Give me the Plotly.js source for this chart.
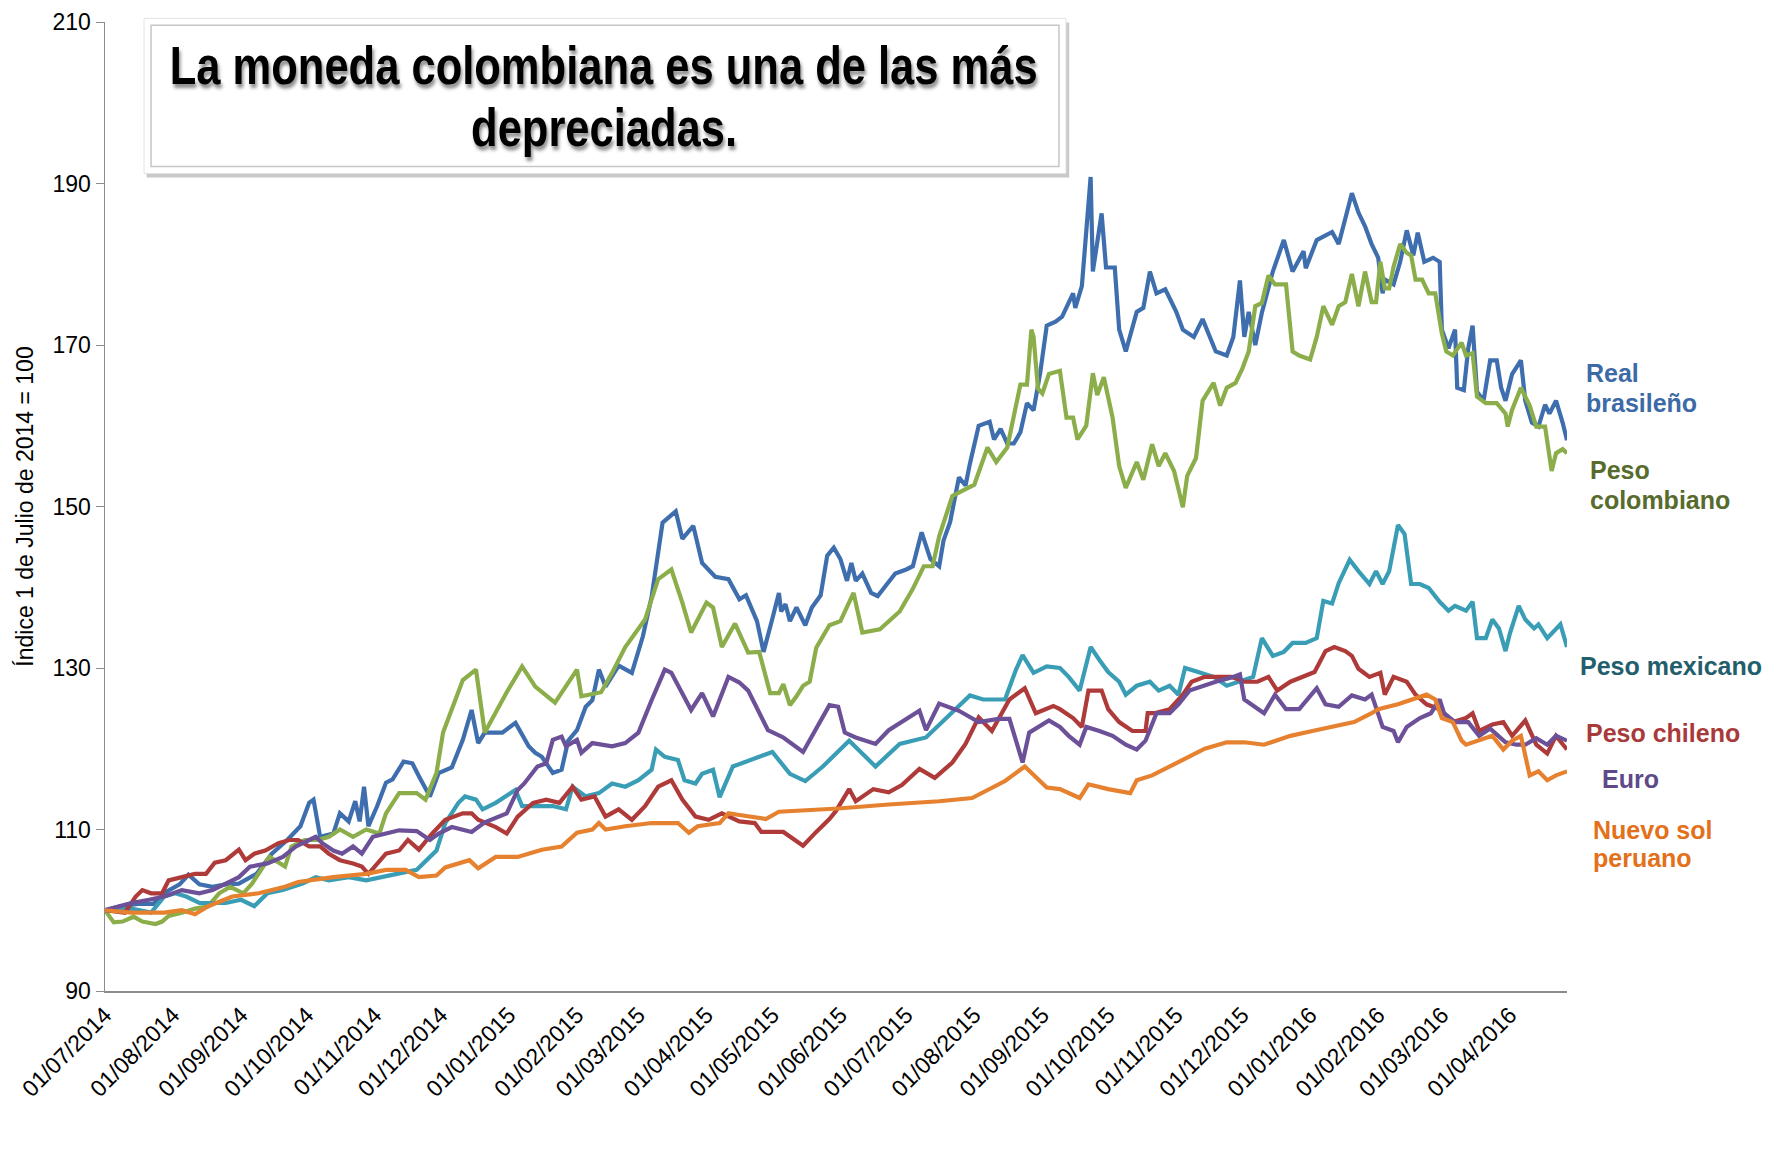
<!DOCTYPE html>
<html><head><meta charset="utf-8">
<script src="https://cdn.plot.ly/plotly-3.0.1.min.js"></script>
<style>html,body{margin:0;padding:0;background:#fff}#chart{width:1778px;height:1153px}</style>
</head><body><div id="chart"></div>
<script>
// ---- Data (index 1 Jul 2014 = 100) ----
const realBrasileno = [
["2014-07-01",100],["2014-07-08",100.5],["2014-07-17",100.8],["2014-07-23",100.8],["2014-07-29",102.3],["2014-08-04",103.2],["2014-08-08",104.4],["2014-08-13",103.2],["2014-08-19",102.9],["2014-08-25",103.2],["2014-08-31",103.3],["2014-09-08",104.5],["2014-09-15",107],["2014-09-22",108.7],["2014-09-28",110.4],["2014-10-02",113.3],["2014-10-04",113.7],["2014-10-07",109.1],["2014-10-13",109.5],["2014-10-16",112],["2014-10-20",111],["2014-10-23",113.5],["2014-10-25",111],["2014-10-27",115.3],["2014-10-29",110.4],["2014-11-02",112.9],["2014-11-06",115.8],["2014-11-09",116.2],["2014-11-14",118.4],["2014-11-18",118.2],["2014-11-21",116.6],["2014-11-26",114.1],["2014-11-30",117],["2014-12-06",117.7],["2014-12-11",121.1],["2014-12-15",124.8],["2014-12-18",120.7],["2014-12-21",122],["2014-12-29",122],
["2015-01-04",123.2],["2015-01-10",120.3],["2015-01-13",119.5],["2015-01-16",119],["2015-01-21",117],["2015-01-25",117.4],["2015-01-28",121],["2015-02-01",122.3],["2015-02-05",125.2],["2015-02-08",126],["2015-02-11",129.8],["2015-02-14",127.7],["2015-02-20",130.3],["2015-02-26",129.4],["2015-03-03",133.9],["2015-03-07",138.8],["2015-03-12",148],["2015-03-18",149.4],["2015-03-21",146],["2015-03-26",147.6],["2015-03-30",143],["2015-04-05",141.3],["2015-04-11",141],["2015-04-16",138.5],["2015-04-19",139],["2015-04-24",135.8],["2015-04-27",132],["2015-05-01",136.1],["2015-05-04",139.3],["2015-05-05",137],["2015-05-07",137.9],["2015-05-09",135.8],["2015-05-12",137.5],["2015-05-16",135.3],["2015-05-19",137.5],["2015-05-23",139],["2015-05-26",143.9],["2015-05-29",144.9],["2015-06-01",143.5],["2015-06-04",140.8],["2015-06-06",143],["2015-06-08",140.8],["2015-06-11",141.7],["2015-06-15",139.3],["2015-06-18",138.9],["2015-06-22",140.3],["2015-06-26",141.7],
["2015-07-01",142.2],["2015-07-04",142.6],["2015-07-08",146.8],["2015-07-12",143.5],["2015-07-16",142.6],["2015-07-18",145.8],["2015-07-21",148.1],["2015-07-25",153.6],["2015-07-28",152.6],["2015-07-30",155.3],["2015-08-03",160],["2015-08-08",160.5],["2015-08-10",158.3],["2015-08-13",159.6],["2015-08-16",157.8],["2015-08-19",157.8],["2015-08-22",159.2],["2015-08-25",162.8],["2015-08-28",161.9],["2015-08-31",166.5],["2015-09-03",172.4],["2015-09-07",172.9],["2015-09-10",173.5],["2015-09-15",176.4],["2015-09-16",174.6],["2015-09-19",177.3],["2015-09-23",190.8],["2015-09-24",179.1],["2015-09-28",186.3],["2015-09-30",179.6],["2015-10-04",179.6],["2015-10-06",171.9],["2015-10-09",169.2],["2015-10-14",174.1],["2015-10-17",174.6],["2015-10-20",179.1],["2015-10-23",176.4],["2015-10-27",176.9],["2015-11-01",174.1],["2015-11-04",171.9],["2015-11-09",171],["2015-11-13",173.2],["2015-11-19",169.2],["2015-11-24",168.7],["2015-11-27",171],["2015-11-30",178],["2015-12-02",171],["2015-12-04",174.1],["2015-12-07",170],["2015-12-10",174],["2015-12-15",179.1],["2015-12-20",183],["2015-12-24",179.1],["2015-12-29",181.6],["2015-12-30",179.5],
["2016-01-04",183],["2016-01-11",184],["2016-01-14",182.5],["2016-01-20",188.8],["2016-01-23",186.4],["2016-01-26",184.7],["2016-01-29",182.5],["2016-02-01",180.8],["2016-02-03",176.4],["2016-02-04",178.1],["2016-02-08",177.5],["2016-02-11",180.3],["2016-02-14",184.2],["2016-02-17",181.1],["2016-02-19",183.9],["2016-02-22",180.3],["2016-02-26",180.8],["2016-02-29",180.3],["2016-03-01",171.9],["2016-03-04",169.6],["2016-03-07",171.9],["2016-03-08",164.7],["2016-03-11",164.4],["2016-03-13",169.6],["2016-03-15",172.4],["2016-03-17",164.2],["2016-03-20",163.1],["2016-03-23",168.1],["2016-03-26",168.1],["2016-03-28",164.7],["2016-03-30",163.1],["2016-04-02",166.4],["2016-04-06",168.1],["2016-04-08",163.1],["2016-04-11",160.4],["2016-04-14",159.9],["2016-04-17",162.6],["2016-04-19",161.5],["2016-04-22",163.1],["2016-04-25",160.4],["2016-04-27",158.2]
];
const pesoColombiano = [
["2014-07-01",100],["2014-07-05",98.5],["2014-07-09",98.6],["2014-07-14",99.2],["2014-07-18",98.6],["2014-07-24",98.3],["2014-07-27",98.6],["2014-07-30",99.3],["2014-08-05",99.7],["2014-08-11",100.2],["2014-08-17",100.5],["2014-08-22",102.1],["2014-08-27",102.9],["2014-09-02",102.1],["2014-09-06",103.3],["2014-09-11",105.4],["2014-09-14",106.6],["2014-09-21",105.4],["2014-09-24",107.9],["2014-09-30",108.7],["2014-10-06",108.7],["2014-10-11",109.1],["2014-10-16",110],["2014-10-22",109.1],["2014-10-28",110],["2014-11-03",109.5],["2014-11-06",112],["2014-11-12",114.5],["2014-11-20",114.5],["2014-11-24",113.7],["2014-11-29",117],["2014-12-02",122],["2014-12-11",128.5],["2014-12-17",129.8],["2014-12-21",122],["2014-12-31",127],
["2015-01-07",130.2],["2015-01-13",127.7],["2015-01-22",125.7],["2015-02-01",129.8],["2015-02-03",126.5],["2015-02-12",127],["2015-02-17",129.4],["2015-02-23",132.6],["2015-03-04",136],["2015-03-10",141],["2015-03-16",142.2],["2015-03-21",138.1],["2015-03-25",134.4],["2015-04-01",138.1],["2015-04-04",137.5],["2015-04-08",132.6],["2015-04-14",135.5],["2015-04-20",131.9],["2015-04-25",132],["2015-04-30",126.9],["2015-05-04",126.9],["2015-05-06",128],["2015-05-09",125.4],["2015-05-12",126.5],["2015-05-15",127.8],["2015-05-18",128.3],["2015-05-21",132.5],["2015-05-27",135.3],["2015-06-01",135.8],["2015-06-07",139.3],["2015-06-11",134.4],["2015-06-19",134.8],["2015-06-28",137],
["2015-07-04",139.8],["2015-07-09",142.6],["2015-07-13",142.6],["2015-07-16",146.3],["2015-07-22",151.3],["2015-08-01",152.7],["2015-08-07",157.3],["2015-08-11",155.5],["2015-08-16",157.3],["2015-08-22",165.1],["2015-08-25",165.1],["2015-08-27",171.9],["2015-08-28",171],["2015-08-30",164.6],["2015-09-01",164],["2015-09-04",166.4],["2015-09-09",166.8],["2015-09-12",161],["2015-09-15",161],["2015-09-17",158.3],["2015-09-21",160],["2015-09-24",166.5],["2015-09-26",163.8],["2015-09-29",166],["2015-10-03",161],["2015-10-06",155],["2015-10-09",152.3],["2015-10-14",155.5],["2015-10-17",153.3],["2015-10-21",157.7],["2015-10-24",155],["2015-10-27",156.6],["2015-10-31",154.4],["2015-11-04",149.9],["2015-11-06",153.8],["2015-11-10",156],["2015-11-13",163.1],["2015-11-18",165.3],["2015-11-21",162.5],["2015-11-24",164.7],["2015-11-28",165.3],["2015-12-01",167],["2015-12-04",169.2],["2015-12-07",174.8],["2015-12-10",175.2],["2015-12-13",178.6],["2015-12-16",177.5],["2015-12-21",177.5],["2015-12-24",169.2],["2015-12-27",168.7],
["2016-01-01",168.2],["2016-01-04",171],["2016-01-07",174.8],["2016-01-11",172.5],["2016-01-14",174.8],["2016-01-17",175.3],["2016-01-20",178.8],["2016-01-23",174.8],["2016-01-26",179.1],["2016-01-29",175.3],["2016-01-31",175.3],["2016-02-02",180.3],["2016-02-04",177],["2016-02-06",177],["2016-02-08",179.7],["2016-02-11",182.5],["2016-02-14",181.4],["2016-02-16",181.1],["2016-02-18",178.1],["2016-02-21",178.1],["2016-02-24",176.4],["2016-02-27",176.4],["2016-03-01",171.4],["2016-03-03",169.2],["2016-03-06",168.7],["2016-03-10",170.3],["2016-03-12",168.7],["2016-03-15",169],["2016-03-17",163.6],["2016-03-21",162.8],["2016-03-26",162.8],["2016-03-30",161.5],["2016-03-31",159.9],["2016-04-02",162],["2016-04-06",164.7],["2016-04-10",162.5],["2016-04-13",159.9],["2016-04-17",159.9],["2016-04-20",154.4],["2016-04-22",156.6],["2016-04-25",157.1],["2016-04-27",156.6]
];
const pesoMexicano = [
["2014-07-01",100],["2014-07-13",100.2],["2014-07-22",99.7],["2014-07-28",101.7],["2014-08-02",102.1],["2014-08-07",101.7],["2014-08-13",100.9],["2014-08-25",100.9],["2014-09-01",101.3],["2014-09-07",100.5],["2014-09-13",102.1],["2014-09-20",102.5],["2014-09-29",103.3],["2014-10-05",104.1],["2014-10-11",103.7],["2014-10-20",104.1],["2014-10-28",103.7],["2014-11-03",104.1],["2014-11-11",104.5],["2014-11-20",105],["2014-11-26",106.5],["2014-11-29",107.4],["2014-12-03",110.8],["2014-12-09",113.3],["2014-12-12",114.1],["2014-12-17",113.7],["2014-12-20",112.5],["2014-12-26",113.3],
["2015-01-04",114.9],["2015-01-07",112.9],["2015-01-12",112.9],["2015-01-21",112.9],["2015-01-27",112.5],["2015-01-30",115.3],["2015-02-05",114.1],["2015-02-11",114.5],["2015-02-17",115.7],["2015-02-23",115.3],["2015-03-01",116.1],["2015-03-07",117.4],["2015-03-09",119.9],["2015-03-13",119],["2015-03-19",118.6],["2015-03-22",116.1],["2015-03-27",115.7],["2015-03-30",116.9],["2015-04-04",117.4],["2015-04-07",114],["2015-04-13",117.8],["2015-04-20",118.5],["2015-05-01",119.6],["2015-05-09",116.9],["2015-05-16",116],["2015-05-24",117.8],["2015-06-05",121],["2015-06-17",117.8],["2015-06-28",120.6],["2015-07-10",121.4],["2015-07-19",123.7],["2015-07-30",126.6],["2015-08-05",126.1],["2015-08-15",126.1],["2015-08-20",129.8],["2015-08-23",131.6],["2015-08-28",129.4],["2015-09-03",130.2],["2015-09-09",130],["2015-09-13",128.9],["2015-09-18",127.2],["2015-09-23",132.6],["2015-09-27",131],["2015-10-01",129.5],["2015-10-06",128.3],["2015-10-09",126.7],["2015-10-14",127.8],["2015-10-20",128.3],["2015-10-24",127.2],["2015-10-29",127.8],["2015-11-02",126.7],["2015-11-05",130],["2015-11-11",129.5],["2015-11-18",128.9],["2015-11-24",127.8],["2015-11-30",128.3],["2015-12-06",128.9],["2015-12-10",133.7],["2015-12-15",131.5],["2015-12-20",132],["2015-12-24",133.1],["2015-12-30",133.1],
["2016-01-04",133.7],["2016-01-07",138.3],["2016-01-11",138],["2016-01-14",140.5],["2016-01-19",143.4],["2016-01-23",142],["2016-01-28",140.4],["2016-01-31",142],["2016-02-03",140.4],["2016-02-06",142],["2016-02-10",147.7],["2016-02-13",146.6],["2016-02-16",140.4],["2016-02-20",140.4],["2016-02-24",139.9],["2016-02-29",138.2],["2016-03-04",137.1],["2016-03-07",137.7],["2016-03-12",137.1],["2016-03-15",138.2],["2016-03-17",133.7],["2016-03-21",133.7],["2016-03-24",136],["2016-03-27",134.9],["2016-03-30",132.1],["2016-04-01",134.3],["2016-04-05",137.7],["2016-04-08",136],["2016-04-12",134.9],["2016-04-14",135.4],["2016-04-18",133.7],["2016-04-24",135.4],["2016-04-27",132.6]
];
const pesoChileno = [
["2014-07-01",100],["2014-07-10",99.7],["2014-07-15",101.7],["2014-07-18",102.5],["2014-07-22",102.1],["2014-07-27",102.1],["2014-07-30",103.7],["2014-08-05",104.1],["2014-08-11",104.5],["2014-08-16",104.5],["2014-08-20",105.9],["2014-08-25",106.2],["2014-08-31",107.5],["2014-09-03",106.2],["2014-09-07",107],["2014-09-12",107.4],["2014-09-18",108.3],["2014-09-23",108.7],["2014-09-27",108.7],["2014-10-02",107.9],["2014-10-07",107.9],["2014-10-11",107],["2014-10-16",106.2],["2014-10-22",105.8],["2014-10-26",105.4],["2014-10-29",104.5],["2014-11-01",105.4],["2014-11-06",107],["2014-11-12",107.4],["2014-11-16",108.7],["2014-11-21",107.5],["2014-11-27",109.5],["2014-12-03",111.2],["2014-12-11",112],["2014-12-15",112],["2014-12-18",111.2],["2014-12-26",110.3],["2014-12-31",109.5],
["2015-01-05",111.6],["2015-01-12",113.3],["2015-01-18",113.7],["2015-01-24",113.3],["2015-01-30",115.3],["2015-02-03",113.7],["2015-02-09",114.1],["2015-02-14",111.6],["2015-02-20",112.5],["2015-02-26",111.2],["2015-03-04",112.9],["2015-03-10",115.3],["2015-03-16",116.1],["2015-03-21",113.7],["2015-03-27",111.6],["2015-04-02",111.2],["2015-04-08",112],["2015-04-16",111],["2015-04-23",110.8],["2015-04-26",109.7],["2015-05-06",109.7],["2015-05-15",108],["2015-05-21",109.7],["2015-05-27",111.3],["2015-05-30",112.3],["2015-06-05",115],["2015-06-08",113.5],["2015-06-16",115],["2015-06-23",114.6],["2015-06-29",115.5],["2015-07-07",117.5],["2015-07-14",116.4],["2015-07-22",118.3],["2015-07-28",120.6],["2015-08-03",123.9],["2015-08-09",122.2],["2015-08-17",126.1],["2015-08-24",127.5],["2015-08-29",124.4],["2015-09-06",125.3],["2015-09-09",124.9],["2015-09-15",123.8],["2015-09-19",122.7],["2015-09-22",127.2],["2015-09-28",127.2],["2015-10-01",124.9],["2015-10-06",123.3],["2015-10-12",122.2],["2015-10-18",122.2],["2015-10-19",124.4],["2015-10-22",124.4],["2015-10-29",124.9],["2015-11-04",126.7],["2015-11-08",128.3],["2015-11-14",128.9],["2015-11-20",128.9],["2015-11-26",128.9],["2015-12-02",128.3],["2015-12-08",128.3],["2015-12-13",128.9],["2015-12-17",127.2],["2015-12-23",128.3],["2015-12-29",128.9],
["2016-01-03",129.5],["2016-01-08",132.1],["2016-01-12",132.6],["2016-01-17",132.1],["2016-01-20",131.5],["2016-01-23",129.9],["2016-01-28",128.9],["2016-02-02",129.4],["2016-02-04",126.7],["2016-02-08",128.9],["2016-02-14",128.3],["2016-02-18",126.7],["2016-02-23",125.5],["2016-02-29",124.9],["2016-03-06",123.3],["2016-03-12",123.8],["2016-03-15",124.4],["2016-03-18",122.2],["2016-03-24",123],["2016-03-29",123.3],["2016-04-02",121.6],["2016-04-08",123.5],["2016-04-13",120.5],["2016-04-18",119.4],["2016-04-22",121.6],["2016-04-27",119.9]
];
const euro = [
["2014-07-01",100],["2014-07-13",100.9],["2014-07-21",101.3],["2014-07-28",101.7],["2014-08-05",102.5],["2014-08-13",102.1],["2014-08-19",102.5],["2014-08-25",103.3],["2014-08-31",104.1],["2014-09-05",105.4],["2014-09-13",105.8],["2014-09-20",106.6],["2014-09-26",107.9],["2014-10-02",108.7],["2014-10-05",109.1],["2014-10-08",108.3],["2014-10-13",107.4],["2014-10-17",107],["2014-10-22",107.9],["2014-10-26",107],["2014-10-31",109.1],["2014-11-06",109.5],["2014-11-12",109.9],["2014-11-20",109.8],["2014-11-26",108.7],["2014-11-30",109.5],["2014-12-06",110.3],["2014-12-15",109.7],["2014-12-21",110.9],["2014-12-31",112],
["2015-01-05",114.9],["2015-01-08",115.7],["2015-01-14",117.8],["2015-01-18",118.2],["2015-01-21",121.1],["2015-01-25",121.5],["2015-01-27",120.3],["2015-02-01",121.1],["2015-02-03",119.5],["2015-02-08",120.7],["2015-02-17",120.3],["2015-02-23",120.7],["2015-03-01",122],["2015-03-07",126],["2015-03-13",129.8],["2015-03-16",129.4],["2015-03-22",126.5],["2015-03-25",124.8],["2015-03-30",126.9],["2015-04-04",124],["2015-04-11",128.9],["2015-04-16",128.2],["2015-04-20",127.2],["2015-04-29",122.3],["2015-05-06",121.4],["2015-05-15",119.6],["2015-05-27",125.4],["2015-05-31",125.2],["2015-06-03",122],["2015-06-08",121.4],["2015-06-17",120.6],["2015-06-23",122.3],["2015-07-07",124.7],["2015-07-10",122.3],["2015-07-16",125.6],["2015-07-25",124.7],["2015-08-03",123.3],["2015-08-12",123.7],["2015-08-17",123.7],["2015-08-23",118.3],["2015-08-26",122],["2015-09-04",123.5],["2015-09-09",122.7],["2015-09-13",121.6],["2015-09-18",120.5],["2015-09-21",122.7],["2015-09-27",122.2],["2015-10-03",121.6],["2015-10-09",120.5],["2015-10-14",119.9],["2015-10-18",121],["2015-10-23",124.4],["2015-10-29",124.4],["2015-11-02",125.5],["2015-11-07",127.2],["2015-11-13",127.8],["2015-11-19",128.3],["2015-11-27",128.9],["2015-11-30",129.2],["2015-12-02",126.1],["2015-12-05",125.5],["2015-12-11",124.4],["2015-12-16",126.7],["2015-12-21",124.9],["2015-12-27",124.9],
["2016-01-04",127.5],["2016-01-08",125.5],["2016-01-14",125.2],["2016-01-20",126.6],["2016-01-26",126.1],["2016-01-29",126.7],["2016-02-03",122.7],["2016-02-08",122.2],["2016-02-10",120.8],["2016-02-14",122.7],["2016-02-20",123.8],["2016-02-25",124.4],["2016-02-29",126.1],["2016-03-02",124.4],["2016-03-07",123.3],["2016-03-13",123.3],["2016-03-18",121.6],["2016-03-23",122.5],["2016-03-27",121.6],["2016-03-30",120.8],["2016-04-04",120.5],["2016-04-08",120.5],["2016-04-13",121.3],["2016-04-18",120.5],["2016-04-22",121.6],["2016-04-27",121]
];
const nuevoSolPeruano = [
["2014-07-01",100],["2014-07-13",99.7],["2014-07-28",99.7],["2014-08-05",100],["2014-08-11",99.5],["2014-08-17",100.5],["2014-08-28",101.7],["2014-09-09",102.1],["2014-09-21",102.9],["2014-09-27",103.5],["2014-10-13",104.1],["2014-10-28",104.5],["2014-11-06",105],["2014-11-15",105],["2014-11-21",104.1],["2014-11-29",104.3],["2014-12-03",105.3],["2014-12-14",106.2],["2014-12-18",105.2],["2014-12-26",106.6],
["2015-01-05",106.6],["2015-01-16",107.5],["2015-01-25",107.9],["2015-02-01",109.6],["2015-02-08",110],["2015-02-11",110.8],["2015-02-14",110],["2015-02-23",110.4],["2015-03-07",110.8],["2015-03-19",110.8],["2015-03-24",109.6],["2015-03-28",110.4],["2015-04-07",110.8],["2015-04-11",112],["2015-04-16",111.8],["2015-04-28",111.3],["2015-05-04",112.2],["2015-05-31",112.6],["2015-06-23",113.1],["2015-07-16",113.5],["2015-07-31",113.9],["2015-08-15",116],["2015-08-24",117.8],["2015-09-03",115.2],["2015-09-09",115],["2015-09-18",113.9],["2015-09-22",115.6],["2015-10-01",115],["2015-10-11",114.5],["2015-10-14",116.1],["2015-10-21",116.7],["2015-10-29",117.8],["2015-11-05",118.9],["2015-11-14",120],["2015-11-24",120.8],["2015-12-02",120.8],["2015-12-11",120.5],["2015-12-23",121.6],
["2016-01-02",122.2],["2016-01-11",122.7],["2016-01-21",123.3],["2016-01-29",124.4],["2016-02-01",124.9],["2016-02-10",125.5],["2016-02-17",126.1],["2016-02-23",126.7],["2016-02-27",126.1],["2016-03-01",123.8],["2016-03-06",123.3],["2016-03-10",121],["2016-03-12",120.5],["2016-03-18",121],["2016-03-24",121.6],["2016-03-29",119.9],["2016-04-02",121],["2016-04-06",121.6],["2016-04-10",116.7],["2016-04-14",117.2],["2016-04-18",116.1],["2016-04-22",116.7],["2016-04-27",117.2]
];

const seriesNames = ["Real brasileño","Peso colombiano","Peso mexicano","Peso chileno","Euro","Nuevo sol peruano"];
const seriesData = [realBrasileno, pesoColombiano, pesoMexicano, pesoChileno, euro, nuevoSolPeruano];
const lineColors = ["#3E6EAD","#8BAE4A","#3A9DB6","#AE3B39","#6C5198","#E6812F"];

const yTitle = "Índice 1 de Julio de 2014 = 100";
const titleLine1 = "La moneda colombiana es una de las más";
const titleLine2 = "depreciadas.";

const traces = seriesData.map((s, i) => ({
  type: "scatter", mode: "lines", name: seriesNames[i],
  x: s.map(p => p[0]), y: s.map(p => p[1]),
  line: {color: lineColors[i], width: 4.2}, hoverinfo: "skip"
}));

const baseFont = "Liberation Sans, Arial, sans-serif";
const labelFont = (c) => ({family: baseFont, size: 25, color: c, weight: 700});
const lab = (text, x, y, c) => ({text, xref: "paper", yref: "y", x, y, xanchor: "left", yanchor: "middle", showarrow: false, font: labelFont(c)});
const titleFont = {family: baseFont, size: 54, color: "#000", weight: 700, shadow: "2px 4px 4px rgba(0,0,0,0.45)"};

const layout = {
  width: 1778, height: 1153,
  margin: {l: 105, r: 211, t: 22, b: 162, pad: 0},
  paper_bgcolor: "#ffffff", plot_bgcolor: "#ffffff",
  showlegend: false,
  font: {family: baseFont, color: "#000"},
  xaxis: {
    type: "date", range: ["2014-07-01", "2016-04-27"],
    tickmode: "linear", tick0: "2014-07-01", dtick: "M1",
    tickformat: "%d/%m/%Y", tickangle: -45,
    tickfont: {family: baseFont, size: 23, color: "#000"},
    showline: true, linecolor: "#8c8c8c", linewidth: 1.5,
    ticks: "", showgrid: false, zeroline: false, fixedrange: true
  },
  yaxis: {
    range: [90, 210], tickmode: "linear", tick0: 90, dtick: 20,
    ticks: "outside", ticklen: 8, tickcolor: "#8c8c8c", tickwidth: 1,
    showline: true, linecolor: "#8c8c8c", linewidth: 1.5,
    showgrid: false, zeroline: false,
    tickfont: {family: baseFont, size: 23, color: "#000"},
    title: {text: yTitle, font: {family: baseFont, size: 23, color: "#000"}, standoff: 12},
    automargin: false, fixedrange: true
  },
  shapes: [
    {type: "rect", xref: "paper", yref: "paper", x0: 0.0285, x1: 0.6595, y0: 0.8395, y1: 0.9995, fillcolor: "#c9c9c9", line: {width: 0}, layer: "above"},
    {type: "rect", xref: "paper", yref: "paper", x0: 0.0267, x1: 0.6573, y0: 0.8437, y1: 1.0038, fillcolor: "#ffffff", line: {color: "#e3e3e3", width: 1}, layer: "above"},
    {type: "rect", xref: "paper", yref: "paper", x0: 0.0315, x1: 0.6525, y0: 0.8510, y1: 0.9966, fillcolor: "rgba(0,0,0,0)", line: {color: "#c6c6c6", width: 1.5}, layer: "above"}
  ],
  annotations: [
    {text: titleLine1, xref: "paper", yref: "paper", x: 0.3413, y: 0.9553, xanchor: "center", yanchor: "middle", showarrow: false, font: titleFont},
    {text: titleLine2, xref: "paper", yref: "paper", x: 0.3413, y: 0.8913, xanchor: "center", yanchor: "middle", showarrow: false, font: titleFont},
    lab("Real", 1.0116, 166.5, "#3C6AA6"),
    lab("brasileño", 1.0116, 162.8, "#3C6AA6"),
    lab("Peso", 1.0144, 154.5, "#566B2C"),
    lab("colombiano", 1.0144, 150.8, "#566B2C"),
    lab("Peso mexicano", 1.0075, 130.2, "#225E6C"),
    lab("Peso chileno", 1.0116, 122.0, "#A83B3A"),
    lab("Euro", 1.0226, 116.3, "#5E4A89"),
    lab("Nuevo sol", 1.0164, 110.0, "#E3701A"),
    lab("peruano", 1.0164, 106.5, "#E3701A")
  ]
};

// Narrow the bold title glyphs (the reference uses a condensed bold face)
function condenseTitle(gd) {
  const targetWidths = {0: 868, 1: 266};
  Object.keys(targetWidths).forEach(idx => {
    const t = gd.querySelector('g.annotation[data-index="' + idx + '"] text.annotation-text');
    if (!t) return;
    const before = t.getBBox();
    const cx = before.x + before.width / 2;
    t.setAttribute("textLength", targetWidths[idx]);
    t.setAttribute("lengthAdjust", "spacingAndGlyphs");
    const after = t.getBBox();
    const shift = cx - (after.x + after.width / 2);
    const x0 = parseFloat(t.getAttribute("x") || "0");
    t.setAttribute("x", x0 + shift);
  });
}

Plotly.newPlot("chart", traces, layout, {staticPlot: true, displayModeBar: false}).then(condenseTitle);
</script></body></html>
